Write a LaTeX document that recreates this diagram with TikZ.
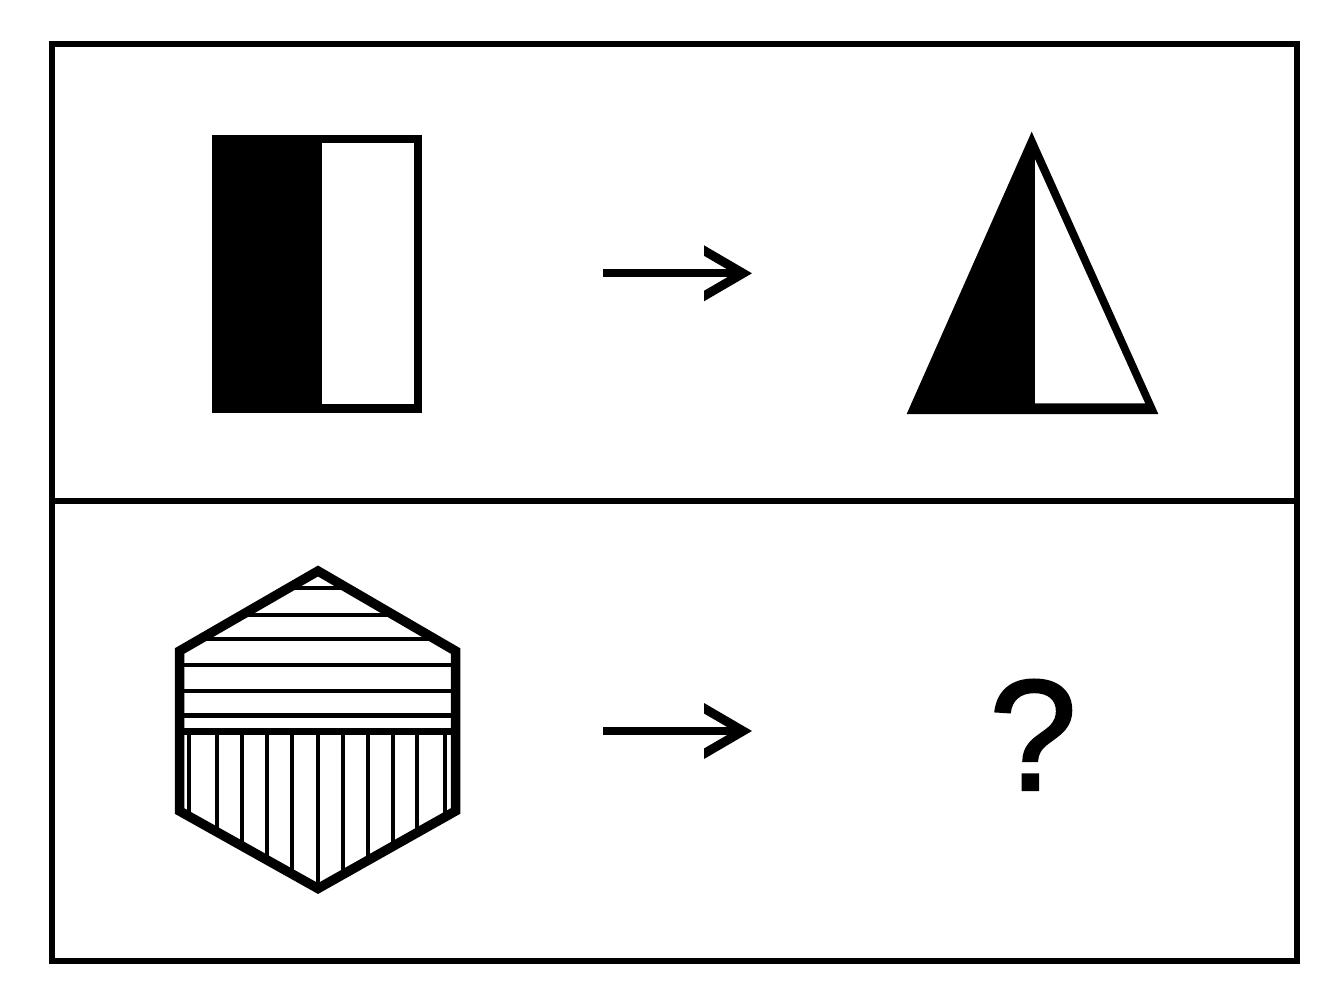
\documentclass[tikz,border=0pt]{standalone}
\usepackage{fontspec}
\setmainfont{Liberation Sans}
\newfontfamily\qfont[FakeBold=1.5]{Liberation Sans}
\begin{document}
\begin{tikzpicture}[x=1pt,y=-1pt,
  frame/.style={line width=6pt},
  hatch/.style={line width=4pt},
  hexline/.style={line width=9.5pt, line join=miter},
  bigarrow/.pic={
    \fill (-149,-4) rectangle (-15,4);
    \fill (-48,-28) -- (0,0) -- (-48,28) -- (-48,17.5) -- (-18,0) -- (-48,-17.5) -- cycle;
  }]
\useasboundingbox (0,0) rectangle (1320,992);
\fill[white] (0,0) rectangle (1320,992);
% frame
\draw[frame] (52,44.5) rectangle (1297,960.5);
\draw[frame] (52,501) -- (1297,501);
% top-left rectangle
\fill (211.7,135) rectangle (422.3,413.3);
\fill[white] (321.7,142.7) rectangle (413.7,403.7);
% arrows
\pic at (752,273.3) {bigarrow};
\pic at (752,731) {bigarrow};
% triangle
\fill (1031.7,131.7) -- (1158.3,414) -- (906.7,414) -- cycle;
\fill[white] (1035,159.3) -- (1145,403.3) -- (1035,403.3) -- cycle;
% hexagon
\coordinate (ht) at (318,571);
\coordinate (htr) at (455.5,651);
\coordinate (hbr) at (455.5,811);
\coordinate (hb) at (318,888.5);
\coordinate (hbl) at (179.5,811);
\coordinate (htl) at (179.5,651);
\begin{scope}
  \clip (ht) -- (htr) -- (hbr) -- (hb) -- (hbl) -- (htl) -- cycle;
  \foreach \y/\w in {588.3/4,615/4,639.3/4,665/4,691/4,715/5,731.7/7}
    \draw[line width=\w pt] (170,\y) -- (465,\y);
  \foreach \x in {189.3,216.7,241.7,267.3,292.3,317.7,342.7,367.7,392.7,417.3,445}
    \draw[hatch] (\x,731) -- (\x,900);
\end{scope}
\draw[hexline] (ht) -- (htr) -- (hbr) -- (hb) -- (hbl) -- (htl) -- cycle;
% question mark
\node[font=\qfont\fontsize{158}{158}\selectfont, anchor=base, inner sep=0pt] (q) at (1033,790) {?};
\end{tikzpicture}
\end{document}
